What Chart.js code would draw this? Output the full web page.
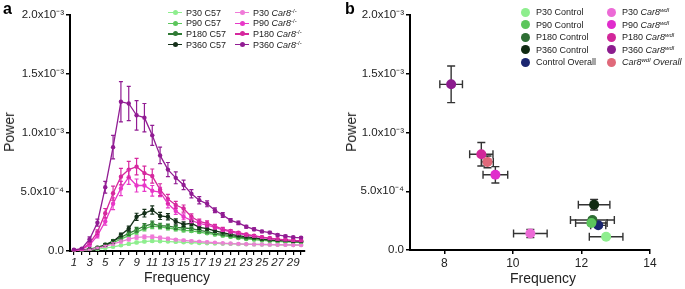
<!DOCTYPE html>
<html>
<head>
<meta charset="utf-8">
<script src="https://cdn.jsdelivr.net/npm/chart.js@4.4.1/dist/chart.umd.min.js"></script>
<style>
    body { margin: 0; background: #fff; font-family: 'Liberation Sans', Arial, sans-serif; color: #222; }
    #page { position: relative; width: 685px; height: 289px; overflow: hidden; }
    canvas { position: absolute; top: 0; }
    .panel { position: absolute; font-weight: bold; font-size: 16px; color: #000; }
    .ytitle { position: absolute; font-size: 14px; transform: translate(-50%, -50%) rotate(-90deg); white-space: nowrap; }
    .xtitle { position: absolute; font-size: 14px; transform: translate(-50%, -50%); white-space: nowrap; }
    .leg { position: absolute; font-size: 9px; white-space: nowrap; line-height: 12px; }
    .leg sup { font-size: 6px; vertical-align: 3px; line-height: 0; }
    .lineMark { position: absolute; width: 14px; height: 1.5px; }
    .lineMark span { position: absolute; left: 4.5px; top: -2px; width: 5px; height: 5px; border-radius: 50%; background: inherit; }
    .dotMark { position: absolute; width: 9px; height: 9px; border-radius: 50%; }
</style>
</head>
<body>
<div id="page">
    <canvas id="chart-a" width="340" height="289" style="left:0"></canvas>
    <canvas id="chart-b" width="345" height="289" style="left:340px"></canvas>

    <div class="panel" style="left:3px;top:0px">a</div>
    <div class="panel" style="left:345px;top:0px">b</div>

    <div class="ytitle" style="left:9px;top:132px">Power</div>
    <div class="ytitle" style="left:351px;top:132px">Power</div>
    <div class="xtitle" style="left:177px;top:277px">Frequency</div>
    <div class="xtitle" style="left:543px;top:278px">Frequency</div>

    <div id="legend-a"></div>
    <div id="legend-b"></div>
</div>

<script>
// ---------- Panel a data (power spectrum, x 1e-3) ----------
const freqs = [1, 2, 3, 4, 5, 6, 7, 8, 9, 10, 11, 12, 13, 14, 15, 16, 17, 18, 19, 20, 21, 22, 23, 24, 25, 26, 27, 28, 29, 30];

const p30C57 = [0.002, 0.004, 0.008, 0.015, 0.025, 0.035, 0.048, 0.060, 0.072, 0.080, 0.085, 0.083, 0.080, 0.077, 0.074, 0.071, 0.068, 0.066, 0.064, 0.062, 0.060, 0.058, 0.057, 0.056, 0.055, 0.054, 0.053, 0.052, 0.051, 0.050];
const p30C57Err = [0.001, 0.002, 0.003, 0.004, 0.005, 0.006, 0.007, 0.008, 0.009, 0.009, 0.009, 0.008, 0.008, 0.007, 0.007, 0.006, 0.006, 0.005, 0.005, 0.005, 0.004, 0.004, 0.004, 0.004, 0.003, 0.003, 0.003, 0.003, 0.003, 0.003];

const p90C57 = [0.003, 0.006, 0.012, 0.025, 0.045, 0.070, 0.100, 0.130, 0.160, 0.190, 0.210, 0.205, 0.195, 0.185, 0.175, 0.170, 0.160, 0.150, 0.140, 0.130, 0.120, 0.110, 0.102, 0.096, 0.090, 0.085, 0.081, 0.078, 0.075, 0.072];
const p90C57Err = [0.001, 0.002, 0.004, 0.006, 0.008, 0.010, 0.012, 0.015, 0.018, 0.020, 0.020, 0.018, 0.016, 0.015, 0.013, 0.012, 0.011, 0.010, 0.009, 0.008, 0.008, 0.007, 0.007, 0.006, 0.006, 0.005, 0.005, 0.005, 0.005, 0.005];

const p180C57 = [0.004, 0.008, 0.016, 0.030, 0.055, 0.085, 0.115, 0.150, 0.180, 0.210, 0.230, 0.215, 0.210, 0.200, 0.195, 0.190, 0.175, 0.165, 0.150, 0.140, 0.130, 0.120, 0.110, 0.105, 0.100, 0.095, 0.090, 0.085, 0.080, 0.078];
const p180C57Err = [0.001, 0.002, 0.004, 0.006, 0.008, 0.011, 0.014, 0.017, 0.020, 0.022, 0.024, 0.020, 0.018, 0.016, 0.015, 0.014, 0.012, 0.011, 0.010, 0.009, 0.008, 0.008, 0.007, 0.007, 0.006, 0.006, 0.005, 0.005, 0.005, 0.005];

const p360C57 = [0.005, 0.010, 0.015, 0.023, 0.050, 0.080, 0.136, 0.190, 0.290, 0.320, 0.347, 0.297, 0.290, 0.250, 0.226, 0.235, 0.200, 0.190, 0.170, 0.155, 0.140, 0.130, 0.120, 0.113, 0.100, 0.093, 0.090, 0.088, 0.082, 0.080];
const p360C57Err = [0.002, 0.003, 0.005, 0.008, 0.010, 0.013, 0.016, 0.020, 0.030, 0.032, 0.035, 0.030, 0.026, 0.022, 0.020, 0.018, 0.016, 0.014, 0.012, 0.011, 0.010, 0.009, 0.008, 0.008, 0.007, 0.007, 0.006, 0.006, 0.006, 0.006];

const p30Car8 = [0.003, 0.006, 0.012, 0.025, 0.040, 0.060, 0.080, 0.100, 0.115, 0.120, 0.120, 0.112, 0.104, 0.096, 0.090, 0.084, 0.079, 0.074, 0.070, 0.066, 0.063, 0.060, 0.058, 0.056, 0.055, 0.054, 0.053, 0.052, 0.051, 0.050];
const p30Car8Err = [0.001, 0.002, 0.004, 0.006, 0.008, 0.010, 0.012, 0.014, 0.015, 0.015, 0.014, 0.012, 0.011, 0.010, 0.009, 0.008, 0.007, 0.007, 0.006, 0.006, 0.005, 0.005, 0.005, 0.004, 0.004, 0.004, 0.004, 0.004, 0.004, 0.004];

const p90Car8 = [0.005, 0.012, 0.050, 0.130, 0.250, 0.400, 0.530, 0.625, 0.555, 0.555, 0.510, 0.500, 0.400, 0.340, 0.290, 0.260, 0.235, 0.220, 0.200, 0.178, 0.162, 0.148, 0.135, 0.125, 0.115, 0.105, 0.098, 0.092, 0.087, 0.085];
const p90Car8Err = [0.002, 0.004, 0.010, 0.020, 0.030, 0.050, 0.060, 0.060, 0.055, 0.050, 0.045, 0.040, 0.035, 0.030, 0.025, 0.020, 0.020, 0.015, 0.015, 0.012, 0.010, 0.010, 0.010, 0.008, 0.008, 0.008, 0.006, 0.006, 0.006, 0.006];

const p180Car8 = [0.005, 0.015, 0.065, 0.160, 0.320, 0.490, 0.630, 0.690, 0.715, 0.660, 0.635, 0.520, 0.440, 0.390, 0.360, 0.290, 0.250, 0.235, 0.210, 0.185, 0.170, 0.155, 0.140, 0.130, 0.118, 0.110, 0.100, 0.095, 0.090, 0.088];
const p180Car8Err = [0.002, 0.004, 0.010, 0.020, 0.040, 0.060, 0.070, 0.070, 0.070, 0.060, 0.060, 0.050, 0.040, 0.030, 0.030, 0.025, 0.020, 0.020, 0.015, 0.015, 0.012, 0.010, 0.010, 0.010, 0.008, 0.008, 0.008, 0.006, 0.006, 0.006];

const p360Car8 = [0.010, 0.020, 0.100, 0.240, 0.540, 0.880, 1.265, 1.250, 1.150, 1.130, 0.980, 0.810, 0.690, 0.620, 0.560, 0.485, 0.430, 0.400, 0.345, 0.305, 0.260, 0.238, 0.206, 0.184, 0.166, 0.156, 0.136, 0.126, 0.116, 0.112];
const p360Car8Err = [0.003, 0.005, 0.020, 0.030, 0.050, 0.100, 0.170, 0.145, 0.125, 0.120, 0.085, 0.070, 0.060, 0.050, 0.040, 0.035, 0.030, 0.025, 0.020, 0.020, 0.015, 0.015, 0.012, 0.012, 0.010, 0.010, 0.010, 0.008, 0.008, 0.008];

// Tick values / labels shared by both power axes (x 1e-3)
const powerTicks = [0, 0.5, 1.0, 1.5, 2.0];
const powerTickLabels = ['0.0', '5.0x10\u207B\u2074', '1.0x10\u207B\u00B3', '1.5x10\u207B\u00B3', '2.0x10\u207B\u00B3'];

// ---------- Panel b data (peak frequency vs peak power) ----------
const groupsB = ['P30 Control', 'P90 Control', 'P180 Control', 'P360 Control', 'Control Overall',
                 'P30 Car8wdl', 'P90 Car8wdl', 'P180 Car8wdl', 'P360 Car8wdl', 'Car8wdl Overall'];
const peakFreq = [12.72, 12.29, 12.32, 12.37, 12.49, 10.51, 9.49, 9.08, 8.20, 9.26];
const peakFreqErr = [0.49, 0.46, 0.64, 0.46, 0.22, 0.49, 0.36, 0.34, 0.33, 0.17];
const peakPower = [0.113, 0.230, 0.255, 0.385, 0.210, 0.140, 0.640, 0.815, 1.410, 0.750];
const peakPowerErr = [0.012, 0.020, 0.020, 0.045, 0.015, 0.035, 0.070, 0.100, 0.156, 0.050];
const freqTicksB = [8, 10, 12, 14];

// Colours
const coloursA = ['#8eee8e', '#5cc65c', '#2f7a34', '#15301a', '#f07ad8', '#e838c8', '#d6289e', '#911c93'];
const coloursB = ['#8eee8e', '#5cc65c', '#2e6e34', '#102a12', '#1b2670', '#ec6ad6', '#e02ccc', '#d2279a', '#8c1c8e', '#e0697a'];

const scale = 1e-3;

// Draws vertical error bars in the series colour (panel a)
const lineErrorBars = {
    id: 'lineErrorBars',
    afterDatasetsDraw(chart) {
        const c = chart.ctx;
        const yS = chart.scales.y;
        chart.data.datasets.forEach((ds, di) => {
            const meta = chart.getDatasetMeta(di);
            c.save();
            c.strokeStyle = ds.borderColor;
            c.lineWidth = 1.2;
            meta.data.forEach((pt, i) => {
                const v = ds.data[i].y;
                const e = ds.errY[i] * scale;
                const top = yS.getPixelForValue(v + e);
                const bot = yS.getPixelForValue(v - e);
                c.beginPath();
                c.moveTo(pt.x, top); c.lineTo(pt.x, bot);
                c.moveTo(pt.x - 2, top); c.lineTo(pt.x + 2, top);
                c.moveTo(pt.x - 2, bot); c.lineTo(pt.x + 2, bot);
                c.stroke();
            });
            c.restore();
        });
    }
};

// Draws x and y error bars in black behind the points (panel b)
const xyErrorBars = {
    id: 'xyErrorBars',
    beforeDatasetsDraw(chart) {
        const c = chart.ctx;
        const xS = chart.scales.x;
        const yS = chart.scales.y;
        c.save();
        c.strokeStyle = '#333';
        c.lineWidth = 1.4;
        chart.data.datasets.forEach((ds, di) => {
            const p = ds.data[0];
            const px = xS.getPixelForValue(p.x);
            const py = yS.getPixelForValue(p.y);
            const x1 = xS.getPixelForValue(p.x - peakFreqErr[di]);
            const x2 = xS.getPixelForValue(p.x + peakFreqErr[di]);
            const y1 = yS.getPixelForValue(p.y + peakPowerErr[di] * scale);
            const y2 = yS.getPixelForValue(p.y - peakPowerErr[di] * scale);
            c.beginPath();
            c.moveTo(x1, py); c.lineTo(x2, py);
            c.moveTo(x1, py - 4); c.lineTo(x1, py + 4);
            c.moveTo(x2, py - 4); c.lineTo(x2, py + 4);
            c.moveTo(px, y1); c.lineTo(px, y2);
            c.moveTo(px - 4, y1); c.lineTo(px + 4, y1);
            c.moveTo(px - 4, y2); c.lineTo(px + 4, y2);
            c.stroke();
        });
        c.restore();
    }
};

// Shared y axis (Power) config
function powerAxis() {
    return {
        min: 0,
        max: 2.0 * scale,
        afterBuildTicks: s => { s.ticks = powerTicks.map(v => ({ value: v * scale })); },
        afterFit: s => { s.width = 70; },
        border: { color: '#000', width: 2 },
        grid: { drawOnChartArea: false, drawTicks: true, tickLength: 4, color: '#000', lineWidth: 1.5 },
        ticks: {
            color: '#222',
            padding: 2,
            font: { family: "'Liberation Sans', Arial", size: 11.5 },
            callback: (v, i) => powerTickLabels[i]
        }
    };
}

// ---------- Panel a: line chart ----------
const seriesA = [
    ['P30 C57', p30C57, p30C57Err],
    ['P90 C57', p90C57, p90C57Err],
    ['P180 C57', p180C57, p180C57Err],
    ['P360 C57', p360C57, p360C57Err],
    ['P30 Car8-/-', p30Car8, p30Car8Err],
    ['P90 Car8-/-', p90Car8, p90Car8Err],
    ['P180 Car8-/-', p180Car8, p180Car8Err],
    ['P360 Car8-/-', p360Car8, p360Car8Err]
];

new Chart(document.getElementById('chart-a'), {
    type: 'line',
    data: {
        datasets: seriesA.map((s, i) => ({
            label: s[0],
            data: freqs.map((f, j) => ({ x: f, y: s[1][j] * scale })),
            errY: s[2],
            borderColor: coloursA[i],
            backgroundColor: coloursA[i],
            borderWidth: 1.3,
            pointRadius: 2.2,
            pointBorderWidth: 0,
            order: 8 - i
        }))
    },
    options: {
        responsive: false,
        animation: false,
        devicePixelRatio: 1,
        layout: { padding: { top: 15, right: 35, left: 0, bottom: 0 } },
        plugins: { legend: { display: false }, tooltip: { enabled: false } },
        scales: {
            x: {
                type: 'linear',
                min: 0.5,
                max: 30.5,
                afterBuildTicks: s => { s.ticks = freqs.map(v => ({ value: v })); },
                afterFit: s => { s.height = 38; },
                border: { color: '#000', width: 2 },
                grid: { drawOnChartArea: false, drawTicks: true, tickLength: 4, color: '#000', lineWidth: 1.2 },
                ticks: {
                    color: '#222',
                    padding: 1,
                    autoSkip: false,
                    maxRotation: 0,
                    font: { family: "'Liberation Sans', Arial", size: 11.5, style: 'italic' },
                    callback: v => (v % 2 === 1 ? String(v) : '')
                }
            },
            y: powerAxis()
        }
    },
    plugins: [lineErrorBars]
});

// ---------- Panel b: scatter with x/y error bars ----------
new Chart(document.getElementById('chart-b'), {
    type: 'scatter',
    data: {
        datasets: groupsB.map((g, i) => ({
            label: g,
            data: [{ x: peakFreq[i], y: peakPower[i] * scale }],
            backgroundColor: coloursB[i],
            borderColor: coloursB[i],
            pointRadius: 5,
            pointBorderWidth: 0
        }))
    },
    options: {
        responsive: false,
        animation: false,
        devicePixelRatio: 1,
        layout: { padding: { top: 15, right: 35, left: 0, bottom: 0 } },
        plugins: { legend: { display: false }, tooltip: { enabled: false } },
        scales: {
            x: {
                type: 'linear',
                min: 7,
                max: 14,
                afterBuildTicks: s => { s.ticks = freqTicksB.map(v => ({ value: v })); },
                afterFit: s => { s.height = 39; },
                border: { color: '#000', width: 2 },
                grid: { drawOnChartArea: false, drawTicks: true, tickLength: 4, color: '#000', lineWidth: 1.5 },
                ticks: {
                    color: '#222',
                    padding: 2,
                    maxRotation: 0,
                    font: { family: "'Liberation Sans', Arial", size: 12 }
                }
            },
            y: powerAxis()
        }
    },
    plugins: [xyErrorBars]
});

// ---------- HTML legends (italic gene names with superscripts) ----------
const legendA = [
    'P30 C57', 'P90 C57', 'P180 C57', 'P360 C57',
    'P30 <i>Car8</i><sup>-/-</sup>', 'P90 <i>Car8</i><sup>-/-</sup>',
    'P180 <i>Car8</i><sup>-/-</sup>', 'P360 <i>Car8</i><sup>-/-</sup>'
];
let htmlA = '';
legendA.forEach((txt, i) => {
    const col = Math.floor(i / 4);
    const row = i % 4;
    const mx = col === 0 ? 168 : 235;
    const y = 12.7 + row * 10.6;
    htmlA += '<div class="lineMark" style="left:' + mx + 'px;top:' + (y - 0.75) + 'px;background:' + coloursA[i] + '"><span></span></div>';
    htmlA += '<div class="leg" style="left:' + (mx + 18) + 'px;top:' + (y - 6) + 'px">' + txt + '</div>';
});
document.getElementById('legend-a').innerHTML = htmlA;

const legendB = [
    'P30 Control', 'P90 Control', 'P180 Control', 'P360 Control', 'Control Overall',
    'P30 <i>Car8<sup>wdl</sup></i>', 'P90 <i>Car8<sup>wdl</sup></i>', 'P180 <i>Car8<sup>wdl</sup></i>',
    'P360 <i>Car8<sup>wdl</sup></i>', '<i>Car8<sup>wdl</sup> Overall</i>'
];
let htmlB = '';
legendB.forEach((txt, i) => {
    const col = Math.floor(i / 5);
    const row = i % 5;
    const cx = col === 0 ? 525 : 611;
    const y = 12.3 + row * 12.5;
    htmlB += '<div class="dotMark" style="left:' + (cx - 4.5) + 'px;top:' + (y - 4.5) + 'px;background:' + coloursB[i] + '"></div>';
    htmlB += '<div class="leg" style="left:' + (cx + 11) + 'px;top:' + (y - 6) + 'px">' + txt + '</div>';
});
document.getElementById('legend-b').innerHTML = htmlB;
</script>
</body>
</html>
